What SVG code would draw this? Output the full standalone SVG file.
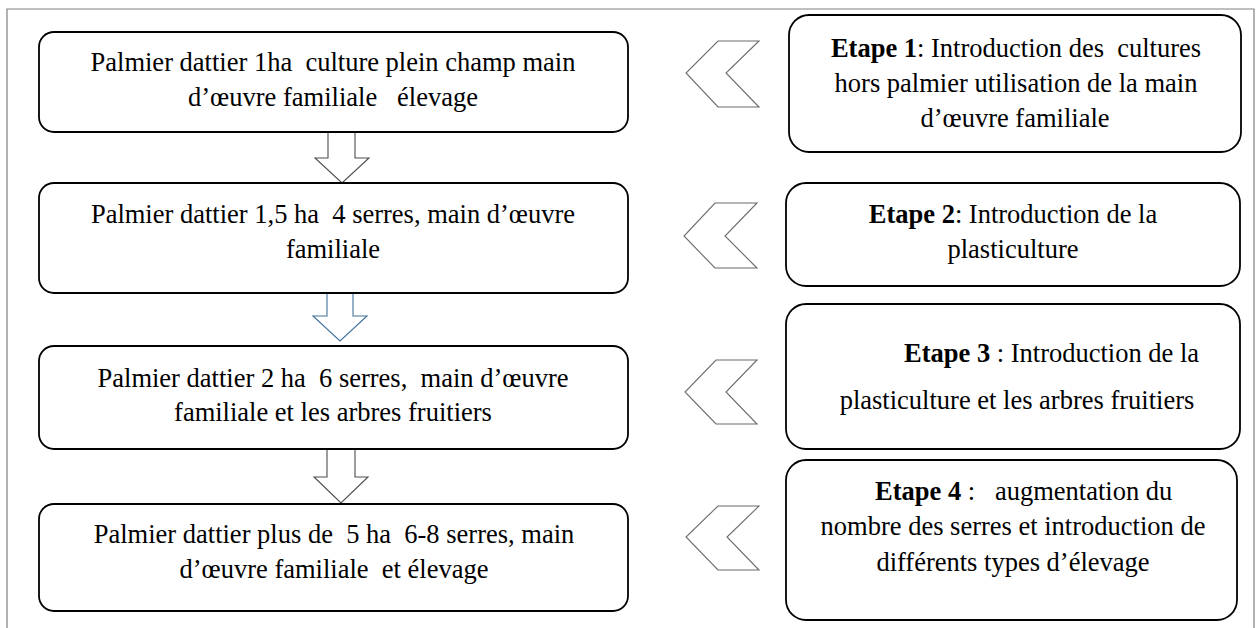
<svg xmlns="http://www.w3.org/2000/svg" width="1259" height="628" viewBox="0 0 1259 628">
<style>
.box{fill:#fff;stroke:#000;stroke-width:1.8}
.t{font-family:"Liberation Serif","Times New Roman",serif;font-size:26.5px;fill:#000;white-space:pre}
.m{text-anchor:middle}
.b{font-weight:bold}
.chev{fill:#fff;stroke:#6b6b6b;stroke-width:1.1}
.darr{fill:#fff;stroke:#4d4d4d;stroke-width:1.1}
.barr{fill:#fff;stroke:#41719c;stroke-width:1.1}
.frame{fill:none;stroke:#808080;stroke-width:1.2}
</style>
<rect width="1259" height="628" fill="#fff"/>
<path class="frame" d="M7,628 V9 H1254 V628"/>
<g id="connectors">
<polygon class="darr" points="328,132 355,132 355,158 369,158 342,183 315,158 328,158"/>
<polygon class="barr" points="327,293 353,293 353,316 367,316 340,341 313,316 327,316"/>
<polygon class="darr" points="327,449 355,449 355,477 368,477 341,503 314,477 327,477"/>
<polygon class="chev" points="718,41 759,41 726,73 759,107 718,107 686,73"/>
<polygon class="chev" points="715,203 757,203 725,236 757,268 715,268 684,236"/>
<polygon class="chev" points="716,360 757,360 726,392 757,424 716,424 685,392"/>
<polygon class="chev" points="718,506 759,506 727,537 759,570 718,570 686,537"/>
</g>
<g id="n1">
<rect class="box" x="39" y="32" width="589" height="100" rx="15"/>
<text class="t m" x="333" y="71">Palmier dattier 1ha  culture plein champ main</text>
<text class="t m" x="333" y="106">d’œuvre familiale   élevage</text>
</g>
<g id="n2">
<rect class="box" x="39" y="183" width="589" height="110" rx="15"/>
<text class="t m" x="333" y="223">Palmier dattier 1,5 ha  4 serres, main d’œuvre</text>
<text class="t m" x="333" y="258">familiale</text>
</g>
<g id="n3">
<rect class="box" x="39" y="346" width="589" height="103" rx="15"/>
<text class="t m" x="333" y="387">Palmier dattier 2 ha  6 serres,  main d’œuvre</text>
<text class="t m" x="333" y="421">familiale et les arbres fruitiers</text>
</g>
<g id="n4">
<rect class="box" x="39" y="504" width="589" height="107" rx="15"/>
<text class="t m" x="334" y="543">Palmier dattier plus de  5 ha  6-8 serres, main</text>
<text class="t m" x="334" y="578">d’œuvre familiale  et élevage</text>
</g>
<g id="e1">
<rect class="box" x="789" y="15" width="452" height="137" rx="20"/>
<text class="t m" x="1016" y="57"><tspan class="b">Etape 1</tspan>: Introduction des  cultures</text>
<text class="t m" x="1016" y="92">hors palmier utilisation de la main</text>
<text class="t m" x="1015" y="127">d’œuvre familiale</text>
</g>
<g id="e2">
<rect class="box" x="786" y="183" width="454" height="103" rx="20"/>
<text class="t m" x="1013" y="223"><tspan class="b">Etape 2</tspan>: Introduction de la</text>
<text class="t m" x="1013" y="258">plasticulture</text>
</g>
<g id="e3">
<rect class="box" x="786" y="304" width="454" height="145" rx="20"/>
<text class="t" x="904" y="362"><tspan class="b">Etape 3</tspan> : Introduction de la</text>
<text class="t m" x="1017" y="409">plasticulture et les arbres fruitiers</text>
</g>
<g id="e4">
<rect class="box" x="786" y="460" width="451" height="160" rx="20"/>
<text class="t" x="875" y="500"><tspan class="b">Etape 4</tspan> :   augmentation du</text>
<text class="t m" x="1013" y="535">nombre des serres et introduction de</text>
<text class="t m" x="1013" y="571">différents types d’élevage</text>
</g>
</svg>
